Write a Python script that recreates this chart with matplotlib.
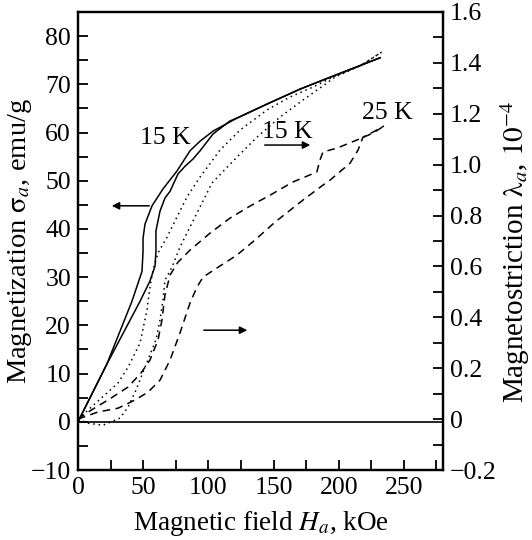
import matplotlib
matplotlib.use("Agg")
import matplotlib.pyplot as plt
from matplotlib.ticker import MultipleLocator

plt.rcParams['font.family'] = ['Liberation Serif', 'DejaVu Serif']
plt.rcParams['mathtext.fontset'] = 'stix'

# magnetization at 15 K (left axis), two branches of the loop
h_sig_a = [0, 22.2, 41.4, 49.1, 49.9, 49.9, 51.4, 56.8, 65.2, 75.9,
           85.9, 93.6, 103.6, 122.0, 145.0, 170.3, 195.6, 231.7]
sig_a = [0, 12.0, 25.0, 31.2, 35.4, 38.1, 41.0, 44.8, 48.3, 52.0,
         56.2, 58.2, 60.3, 63.0, 65.9, 69.0, 71.7, 75.5]
h_sig_b = [0, 22.2, 47.6, 55.2, 59.1, 59.8, 59.8, 62.9, 66.7, 70.6,
           76.7, 82.1, 88.2, 93.6, 103.6, 116.6, 122.0, 145.0, 170.3, 195.6, 231.7]
sig_b = [0, 12.0, 25.0, 29.2, 32.3, 35.4, 39.6, 43.7, 46.4, 47.8,
         51.4, 53.0, 54.5, 56.2, 59.7, 62.4, 63.0, 65.9, 69.0, 71.7, 75.5]

# magnetostriction at 15 K (right axis, dotted)
h_lam15_a = [0, 30.7, 38.4, 47.6, 52.9, 55.2, 57.5, 61.4, 68.3, 75.9, 83.6,
             93.6, 108.9, 124.3, 145.0, 162.6, 180.3, 197.1, 216.3, 233.2]
lam15_a = [0, 0.142, 0.204, 0.299, 0.428, 0.519, 0.586, 0.653, 0.715, 0.794,
           0.873, 0.951, 1.057, 1.136, 1.215, 1.266, 1.305, 1.348, 1.388, 1.443]
h_lam15_b = [0, 7.7, 19.2, 32.2, 38.4, 44.5, 51.4, 59.8, 62.9, 65.2, 66.7,
             72.1, 78.2, 87.4, 95.1, 102.8, 122.0, 137.3, 155.0, 172.6, 185.6,
             197.1, 216.3, 233.2]
lam15_b = [0, -0.016, -0.024, 0.004, 0.047, 0.114, 0.204, 0.311, 0.389, 0.468,
           0.546, 0.597, 0.676, 0.770, 0.849, 0.928, 1.030, 1.108, 1.187,
           1.254, 1.301, 1.344, 1.388, 1.443]

# magnetostriction at 25 K (right axis, dashed)
h_lam25_a = [0, 10.0, 23.0, 38.4, 48.3, 55.2, 61.4, 64.4, 66.7, 70.6, 76.7,
             85.9, 101.3, 116.6, 131.9, 147.3, 164.9, 183.2, 185.6, 187.9,
             198.7, 214.0, 226.3, 234.7]
lam25_a = [0, 0.035, 0.075, 0.126, 0.181, 0.232, 0.311, 0.389, 0.487, 0.566,
           0.617, 0.664, 0.731, 0.790, 0.837, 0.880, 0.932, 0.971, 1.018,
           1.050, 1.065, 1.097, 1.124, 1.152]
h_lam25_b = [0, 15.3, 30.7, 43.7, 53.7, 62.9, 70.6, 78.2, 85.9, 91.3, 95.9,
             106.6, 122.0, 135.8, 151.1, 172.6, 188.0, 193.3, 208.7, 214.8,
             218.6, 226.3, 234.7]
lam25_b = [0, 0.028, 0.043, 0.075, 0.106, 0.153, 0.232, 0.338, 0.456, 0.519,
           0.558, 0.594, 0.645, 0.704, 0.774, 0.861, 0.920, 0.939, 1.006,
           1.057, 1.108, 1.128, 1.152]

fs = 18.5
lw = 1.1
dash = (0, (5, 3.5))
dot = (0, (1, 2.5))

fig = plt.figure(figsize=(5.32, 5.40), dpi=100)
ax = fig.add_axes([0.1466, 0.1296, 0.6861, 0.8482])
ax2 = ax.twinx()

ax.plot(h_sig_a, sig_a, color='k', lw=lw)
ax.plot(h_sig_b, sig_b, color='k', lw=lw)
ax.axhline(0, color='k', lw=1.2)

ax2.plot(h_lam15_a, lam15_a, color='k', lw=lw, ls=dot)
ax2.plot(h_lam15_b, lam15_b, color='k', lw=lw, ls=dot)
ax2.plot(h_lam25_a, lam25_a, color='k', lw=lw, ls=dash)
ax2.plot(h_lam25_b, lam25_b, color='k', lw=lw, ls=dash)

ax.set_xlim(0, 280)
ax.set_ylim(-10, 85)
ax2.set_ylim(-0.2, 1.6)

ax.xaxis.set_major_locator(MultipleLocator(50))
ax.xaxis.set_minor_locator(MultipleLocator(25))
ax.yaxis.set_major_locator(MultipleLocator(10))
ax.yaxis.set_minor_locator(MultipleLocator(5))
ax2.yaxis.set_major_locator(MultipleLocator(0.2))
ax2.yaxis.set_minor_locator(MultipleLocator(0.1))
ax2.yaxis.set_major_formatter(lambda v, p: f"{v:.1f}".replace('-', '\u2212') if abs(v) > 1e-9 else "0")

for a in (ax, ax2):
    for s in a.spines.values():
        s.set_linewidth(1.6)
    a.tick_params(which='both', direction='in', length=7, width=1.3,
                  labelsize=fs, top=False)
ax.tick_params(which='both', right=False, pad=5)
ax2.tick_params(which='both', left=False, pad=5)

ax.set_xlabel(r"Magnetic field $H_a$, kOe", fontsize=19.5)
ax.set_ylabel(r"Magnetization $\mathrm{\sigma}_a$, emu/g", fontsize=20.5)
ax2.set_ylabel(r"Magnetostriction $\mathrm{\lambda}_a$, $10^{-4}$", fontsize=21)
ax.xaxis.set_label_coords(0.5, -0.086)
ax.yaxis.set_label_coords(-0.12, 0.5)
ax2.yaxis.set_label_coords(1.152, 0.476)

ax.text(66.7, 58.8, "15 K", fontsize=fs, ha='center', va='center')
ax.text(160.3, 60.1, "15 K", fontsize=fs, ha='center', va='center')
ax.text(237, 64.0, "25 K", fontsize=fs, ha='center', va='center')

arrow = dict(arrowstyle='-|>', color='k', lw=1.1, mutation_scale=11)
ax.annotate("", xy=(180.3, 57.4), xytext=(141.1, 57.4), arrowprops=arrow)
ax.annotate("", xy=(23.8, 44.8), xytext=(56.8, 44.8), arrowprops=arrow)
ax.annotate("", xy=(132.0, 19.0), xytext=(94.4, 19.0), arrowprops=arrow)

fig.savefig("out.png", dpi=100)
